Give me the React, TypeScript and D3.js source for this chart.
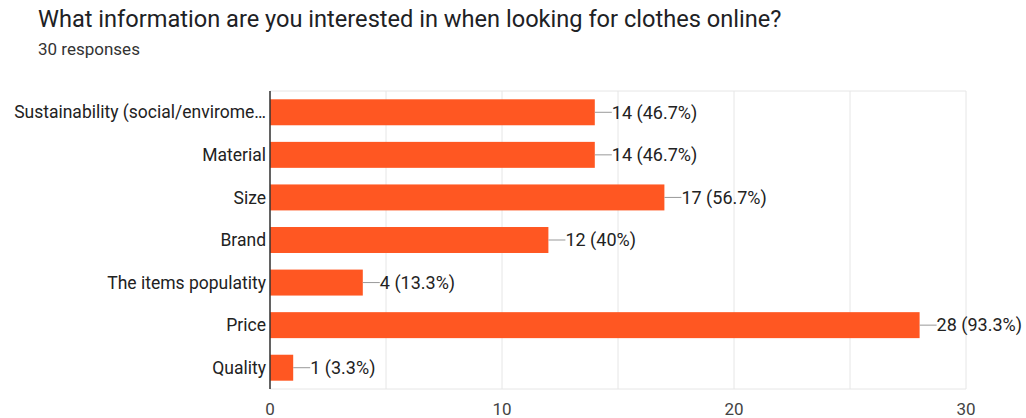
import React from "react";
import * as d3 from "d3";

const categories = [
  "Sustainability (social/enviromental)",
  "Material",
  "Size",
  "Brand",
  "The items populatity",
  "Price",
  "Quality",
];
const counts = [14, 14, 17, 12, 4, 28, 1];
const percents = ["46.7%", "46.7%", "56.7%", "40%", "13.3%", "93.3%", "3.3%"];
const gridTicks = [0, 5, 10, 15, 20, 25, 30];
const labelTicks = [0, 10, 20, 30];

const W = 1026;
const H = 418;
const left = 270;
const right = 966;
const top = 91;
const bottom = 389;
const font = "Roboto, Arial, sans-serif";

function truncate(s: string) {
  return s.length > 31 ? s.slice(0, 31) + "…" : s;
}

export default function App() {
  const x = d3.scaleLinear().domain([0, 30]).range([left, right]);
  const y = d3.scaleBand<string>().domain(categories).range([top, bottom]).paddingInner(0.39).paddingOuter(0.195);
  return (
    <svg width={W} height={H} style={{ position: "absolute", left: 0, top: 0, background: "#fff" }} fontFamily={font}>
      <text x={38} y={27} fontSize={23.6} fill="#202124">
        What information are you interested in when looking for clothes online?
      </text>
      <text x={38} y={55} fontSize={17} fill="#333">
        30 responses
      </text>
      {gridTicks.map((t) => (
        <line key={"g" + t} x1={x(t)} x2={x(t)} y1={top} y2={bottom} stroke="#e6e6e6" strokeWidth={1} />
      ))}
      <line x1={left} x2={right} y1={top} y2={top} stroke="#e6e6e6" />
      <line x1={left} x2={right} y1={bottom} y2={bottom} stroke="#e6e6e6" />
      {categories.map((c, i) => {
        const yy = y(c)!;
        const cy = yy + y.bandwidth() / 2;
        const xe = x(counts[i]);
        return (
          <g key={c}>
            <rect x={left} y={yy} width={xe - left} height={y.bandwidth()} fill="#ff5722" />
            <line x1={xe} x2={xe + 17} y1={cy} y2={cy} stroke="#999" strokeWidth={1} />
            <text x={xe + 17} y={cy} dy="0.35em" fontSize={18} fill="#222">
              {counts[i]} ({percents[i]})
            </text>
            <text x={266} y={cy} dy="0.35em" fontSize={17.5} fill="#222" textAnchor="end">
              {truncate(c)}
            </text>
          </g>
        );
      })}
      <line x1={left} x2={left} y1={top} y2={bottom} stroke="#333" strokeWidth={1.5} />
      {labelTicks.map((t) => (
        <text key={"l" + t} x={x(t)} y={415} fontSize={17} fill="#444" textAnchor="middle">
          {t}
        </text>
      ))}
    </svg>
  );
}
